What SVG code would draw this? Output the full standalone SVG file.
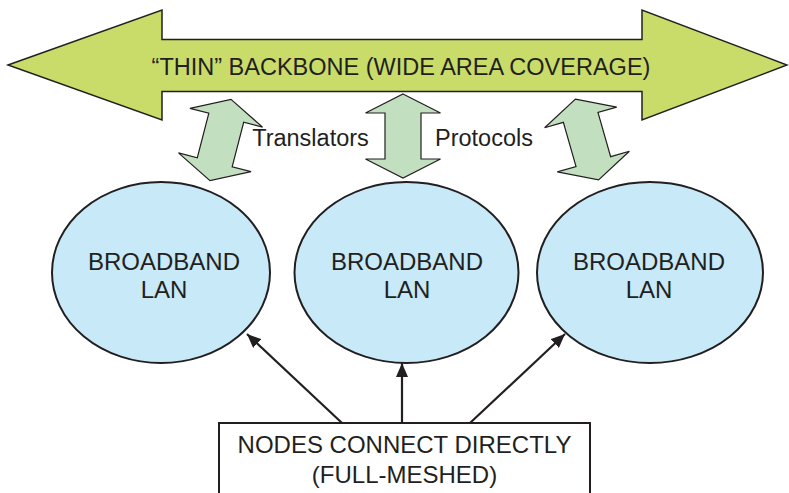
<svg xmlns="http://www.w3.org/2000/svg" width="789" height="493" viewBox="0 0 789 493">
  <style>
    .txt { font-family: "Liberation Sans", Arial, Helvetica, sans-serif; fill: #231f20; text-anchor: middle; }
    .big { font-size: 23.5px; }
    .lg { font-size: 24px; }
    .lan { fill: #c7e9f8; stroke: #231f20; stroke-width: 2; }
    .dbl { fill: #c2e0c0; stroke: #231f20; stroke-width: 1.2; stroke-linejoin: miter; }
    .conn { stroke: #231f20; stroke-width: 2.2; fill: none; marker-end: url(#ah); }
  </style>
  <defs>
    <marker id="ah" markerWidth="14" markerHeight="12" refX="14" refY="6" orient="auto" markerUnits="userSpaceOnUse">
      <path d="M0,0 L14,6 L0,12 Z" fill="#231f20"/>
    </marker>
    <polygon id="dblarrow" class="dbl" points="0,-42 37.5,-23 18,-23 18,23 37.5,23 0,42 -37.5,23 -18,23 -18,-23 -37.5,-23"/>
  </defs>

  <g id="backbone">
    <polygon points="8,65 162,10 162,39.5 642,39.5 642,10 787,65 642,120 642,91.5 162,91.5 162,120" fill="#c9dc6a" stroke="#231f20" stroke-width="1.5"/>
    <text class="txt big" x="401" y="75">“THIN” BACKBONE (WIDE AREA COVERAGE)</text>
  </g>

  <g id="link-left">
    <use href="#dblarrow" transform="translate(220.5,140) rotate(14.5)"/>
  </g>
  <g id="link-middle">
    <use href="#dblarrow" transform="translate(403,136)"/>
  </g>
  <g id="link-right">
    <use href="#dblarrow" transform="translate(587,139.5) rotate(-16)"/>
  </g>
  <g id="label-translators">
    <text class="txt big" x="310.5" y="146">Translators</text>
  </g>
  <g id="label-protocols">
    <text class="txt big" x="484" y="146">Protocols</text>
  </g>

  <g id="lan-left">
    <ellipse class="lan" cx="161" cy="272.5" rx="109" ry="90.5"/>
    <text class="txt lg" x="164" y="270">BROADBAND</text>
    <text class="txt lg" x="164" y="298">LAN</text>
  </g>
  <g id="lan-middle">
    <ellipse class="lan" cx="406.5" cy="272.5" rx="112" ry="90.5"/>
    <text class="txt lg" x="407" y="270">BROADBAND</text>
    <text class="txt lg" x="407" y="298">LAN</text>
  </g>
  <g id="lan-right">
    <ellipse class="lan" cx="650" cy="272.5" rx="113" ry="90.5"/>
    <text class="txt lg" x="649" y="270">BROADBAND</text>
    <text class="txt lg" x="649" y="298">LAN</text>
  </g>

  <g id="connectors">
    <line class="conn" x1="342" y1="423" x2="247" y2="334"/>
    <line class="conn" x1="402" y1="423" x2="402" y2="363"/>
    <line class="conn" x1="470" y1="423" x2="565" y2="334"/>
  </g>

  <g id="nodes-box">
    <rect x="219" y="423" width="371" height="80" fill="#ffffff" stroke="#231f20" stroke-width="2"/>
    <text class="txt lg" x="404.5" y="453">NODES CONNECT DIRECTLY</text>
    <text class="txt lg" x="404.5" y="483">(FULL-MESHED)</text>
  </g>
</svg>
